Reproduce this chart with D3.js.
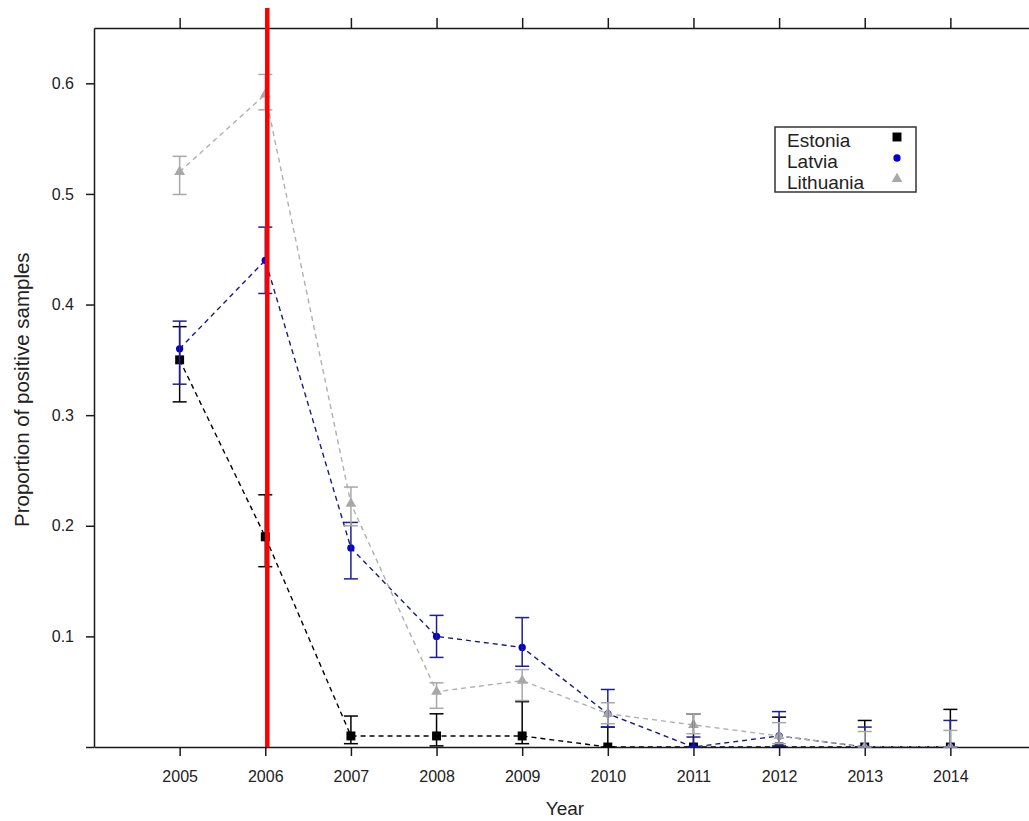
<!DOCTYPE html>
<html>
<head>
<meta charset="utf-8">
<script src="https://cdn.jsdelivr.net/npm/d3@7"></script>
<style>
  body { margin: 0; background: #fff; }
  text { font-family: "Liberation Sans", Arial, sans-serif; fill: #222; }
  .axis path, .axis line { stroke: #1a1a1a; stroke-width: 1.5; }
</style>
</head>
<body>
<div id="chart-container"></div>
<script>
const years = [2005, 2006, 2007, 2008, 2009, 2010, 2011, 2012, 2013, 2014];
const yTicks = [0, 0.1, 0.2, 0.3, 0.4, 0.5, 0.6];

const estonia = [0.35, 0.19, 0.01, 0.01, 0.01, 0, 0, 0, 0, 0];
const estoniaLow = [0.312, 0.163, 0.003, 0.001, 0.003, 0, 0, 0, 0, 0];
const estoniaHigh = [0.38, 0.228, 0.028, 0.03, 0.041, 0.018, 0.03, 0.027, 0.024, 0.034];

const latvia = [0.36, 0.44, 0.18, 0.1, 0.09, 0.03, 0, 0.01, 0, 0];
const latviaLow = [0.328, 0.41, 0.152, 0.081, 0.073, 0.018, 0, 0.001, 0, 0];
const latviaHigh = [0.385, 0.47, 0.203, 0.119, 0.117, 0.052, 0.009, 0.032, 0.018, 0.024];

const lithuania = [0.52, 0.59, 0.22, 0.05, 0.06, 0.03, 0.02, 0.01, 0, 0];
const lithuaniaLow = [0.4995, 0.576, 0.2, 0.035, 0.042, 0.021, 0.012, 0.003, 0, 0];
const lithuaniaHigh = [0.534, 0.608, 0.235, 0.058, 0.07, 0.04, 0.03, 0.022, 0.014, 0.015];

const countries = ["Estonia", "Latvia", "Lithuania"];
const markedYear = 2006;

const width = 1029;
const height = 821;
const margins = { top: 28, left: 94, bottom: 74 };

const series = [
  { name: "Estonia", values: estonia, low: estoniaLow, high: estoniaHigh,
    line: "#000000", bar: "#000000", point: "#000000", shape: d3.symbolSquare, size: 80 },
  { name: "Latvia", values: latvia, low: latviaLow, high: latviaHigh,
    line: "#1a1a85", bar: "#1f1f95", point: "#0000d0", shape: d3.symbolCircle, size: 42 },
  { name: "Lithuania", values: lithuania, low: lithuaniaLow, high: lithuaniaHigh,
    line: "#b0b0b0", bar: "#a8a8a8", point: "#a8a8a8", shape: d3.symbolTriangle, size: 50 }
];

const xScale = d3.scaleLinear().domain([2004, 2015]).range([margins.left, 1036]);
const yScale = d3.scaleLinear().domain([0, 0.65]).range([height - margins.bottom, margins.top]);

const svg = d3
  .select("#chart-container")
  .append("svg")
  .attr("width", width)
  .attr("height", height);

svg.append("defs")
  .append("clipPath")
  .attr("id", "plot-clip")
  .append("rect")
  .attr("x", xScale.range()[0])
  .attr("y", yScale.range()[1])
  .attr("width", xScale.range()[1] - xScale.range()[0])
  .attr("height", yScale.range()[0] - yScale.range()[1]);

// axes
svg.append("g")
  .attr("class", "axis")
  .attr("transform", `translate(0, ${yScale(0)})`)
  .call(d3.axisBottom(xScale).tickValues(years).tickFormat(d3.format("d"))
    .tickSize(9).tickSizeOuter(0).tickPadding(15))
  .call(g => g.selectAll("text").style("font-size", "16px"));

svg.append("g")
  .attr("class", "axis")
  .attr("transform", `translate(0, ${yScale.range()[1]})`)
  .call(d3.axisTop(xScale).tickValues(years).tickFormat("").tickSize(10).tickSizeOuter(0));

svg.append("g")
  .attr("class", "axis")
  .attr("transform", `translate(${xScale.range()[0]}, 0)`)
  .call(d3.axisLeft(yScale).tickValues(yTicks)
    .tickFormat(d => d === 0 ? "" : d3.format(".1f")(d))
    .tickSize(8).tickSizeOuter(0).tickPadding(12))
  .call(g => g.selectAll("text").style("font-size", "16px"));

svg.append("text")
  .text("Year")
  .attr("x", (xScale.range()[0] + xScale.range()[1]) / 2)
  .attr("y", 815)
  .attr("text-anchor", "middle")
  .style("font-size", "19px");

svg.append("text")
  .text("Proportion of positive samples")
  .attr("transform", `translate(29, ${yScale(0.323)}) rotate(-90)`)
  .attr("text-anchor", "middle")
  .style("font-size", "20.5px");

const plot = svg.append("g").attr("clip-path", "url(#plot-clip)");

const line = d3.line()
  .x((d, i) => xScale(years[i]))
  .y(d => yScale(d));

series.forEach(s => {
  plot.append("path")
    .datum(s.values)
    .attr("d", line)
    .attr("fill", "none")
    .attr("stroke", s.line)
    .attr("stroke-width", 1.4)
    .attr("stroke-dasharray", "5,4");
});

const capHalf = 7;
series.forEach(s => {
  const bars = svg.append("g").attr("stroke", s.bar).attr("stroke-width", 1.5);
  years.forEach((yr, i) => {
    const cx = xScale(yr);
    bars.append("line")
      .attr("x1", cx).attr("x2", cx)
      .attr("y1", yScale(s.low[i])).attr("y2", yScale(s.high[i]));
    [s.low[i], s.high[i]].forEach(v => {
      bars.append("line")
        .attr("x1", cx - capHalf).attr("x2", cx + capHalf)
        .attr("y1", yScale(v)).attr("y2", yScale(v));
    });
  });
});

series.forEach(s => {
  plot.selectAll(null)
    .data(s.values)
    .enter()
    .append("path")
    .attr("d", d3.symbol().type(s.shape).size(s.size))
    .attr("transform", (d, i) => `translate(${xScale(years[i])}, ${yScale(d)})`)
    .attr("fill", s.point);
});

// red reference line
svg.append("line")
  .attr("x1", xScale(markedYear) + 2)
  .attr("x2", xScale(markedYear) + 2)
  .attr("y1", yScale.range()[1] - 20)
  .attr("y2", yScale(0))
  .attr("stroke", "#ff0000")
  .attr("stroke-width", 4.5);

// legend
const legend = svg.append("g").attr("transform", "translate(775, 127)");
legend.append("rect")
  .attr("width", 141)
  .attr("height", 65)
  .attr("fill", "#fff")
  .attr("stroke", "#333")
  .attr("stroke-width", 1.5);

countries.forEach((name, i) => {
  const s = series.find(d => d.name === name);
  legend.append("text")
    .text(name)
    .attr("x", 12)
    .attr("y", 20 + i * 21)
    .style("font-size", "19px");
  legend.append("path")
    .attr("d", d3.symbol().type(s.shape).size(s.size))
    .attr("transform", `translate(122, ${10 + i * 21})`)
    .attr("fill", s.point);
});
</script>
</body>
</html>
